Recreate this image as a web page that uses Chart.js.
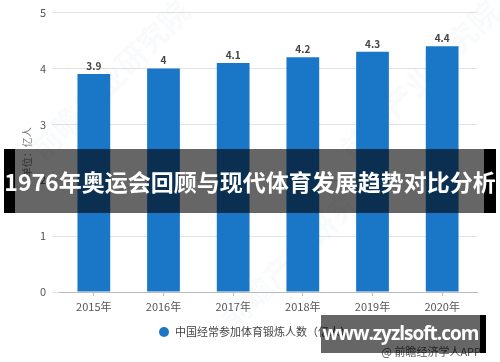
<!DOCTYPE html>
<html>
<head>
<meta charset="utf-8">
<script src="https://cdn.jsdelivr.net/npm/chart.js@4"></script>
<style>
  body { margin: 0; background: #fff; }
  #wrap { position: relative; width: 500px; height: 362px; overflow: hidden; }
  #banner {
    position: absolute; left: 4px; top: 149px; width: 469px; height: 64px;
    border-left: 11px solid #000; border-right: 12px solid #000;
    background: rgba(0,0,0,0.6);
  }
  #bannerText {
    position: absolute; left: 0; top: 149px; width: 500px; height: 64px;
    color: #fff; font: bold 23px "Noto Sans CJK SC", sans-serif;
    line-height: 64px; text-align: center; white-space: nowrap;
  }
  #site {
    position: absolute; left: 321px; top: 315px; width: 159px; height: 38px;
    border-right: 6px solid #000; background: rgba(0,0,0,0.6);
    color: #fff; font: bold 19px "Open Sans", sans-serif; line-height: 36px;
    letter-spacing: -1px; text-align: center; white-space: nowrap;
  }
</style>
</head>
<body>
<div id="wrap">
  <canvas id="myChart" width="500" height="362"></canvas>
  <div id="banner"></div>
  <div id="bannerText">1976年奥运会回顾与现代体育发展趋势对比分析</div>
  <div id="site">www.zyzlsoft.com</div>
</div>
<script>
//Data
var years = ['2015年', '2016年', '2017年', '2018年', '2019年', '2020年']
var people = [3.9, 4, 4.1, 4.2, 4.3, 4.4]
var seriesName = '中国经常参加体育锻炼人数（亿人）'
var yTitle = '单位：亿人'
var sourceText = '@ 前瞻经济学人APP'

var cjk = '"Noto Sans CJK SC", sans-serif'

//Labels over the bars, legend, source, watermark
const extras = {
    id: 'extras',
    beforeDatasetsDraw(chart) {
        const ctx = chart.ctx
        ctx.save()
        ctx.fillStyle = 'rgba(180, 190, 200, 0.08)'
        ctx.font = 'bold 30px ' + cjk
        ctx.textAlign = 'center'
        ctx.textBaseline = 'middle'
        ;[[110, 80], [420, 80], [300, 250]].forEach(p => {
            ctx.save()
            ctx.translate(p[0], p[1])
            ctx.rotate(-Math.PI / 4)
            ctx.fillText('前瞻产业研究院', 0, 0)
            ctx.restore()
        })
        ctx.restore()
    },
    afterDatasetsDraw(chart) {
        const ctx = chart.ctx
        const meta = chart.getDatasetMeta(0)
        ctx.save()
        ctx.fillStyle = '#444'
        ctx.font = 'bold 10px ' + cjk
        ctx.textAlign = 'center'
        ctx.textBaseline = 'bottom'
        meta.data.forEach((bar, i) => {
            ctx.fillText(people[i], bar.x, bar.y - 3)
        })
        //legend
        ctx.fillStyle = '#1a77c8'
        ctx.beginPath()
        ctx.arc(164, 332, 5, 0, Math.PI * 2)
        ctx.fill()
        ctx.fillStyle = '#444'
        ctx.font = '11px ' + cjk
        ctx.textAlign = 'left'
        ctx.textBaseline = 'middle'
        ctx.fillText(seriesName, 175, 332)
        //source
        ctx.fillStyle = '#555'
        ctx.font = '11px ' + cjk
        ctx.textAlign = 'right'
        ctx.fillText(sourceText, 481, 352)
        ctx.restore()
    }
}

const ctx = document.getElementById('myChart').getContext('2d')
const myChart = new Chart(ctx, {
    type: 'bar',
    data: {
        labels: years,
        datasets: [{
            label: seriesName,
            data: people,
            backgroundColor: '#1a77c8',
            categoryPercentage: 1,
            barPercentage: 0.47
        }]
    },
    options: {
        responsive: false,
        animation: false,
        layout: { padding: { top: 12, right: 23, bottom: 50, left: 0 } },
        plugins: {
            legend: { display: false },
            tooltip: { enabled: false }
        },
        scales: {
            x: {
                afterFit(s) { s.height = 20 },
                grid: { offset: false, drawOnChartArea: false, drawTicks: true, tickLength: 4, color: '#bbb' },
                border: { color: '#bbb' },
                ticks: { color: '#555', font: { size: 11, family: cjk }, padding: 4 }
            },
            y: {
                min: 0,
                max: 5,
                afterFit(s) { s.width = 59 },
                grid: { color: '#e3e3e3', tickLength: 7 },
                border: { display: false },
                ticks: { stepSize: 1, color: '#555', font: { size: 11, family: cjk }, padding: 6 },
                title: { display: true, text: yTitle, color: '#777', font: { size: 10, family: cjk }, padding: { top: 21, bottom: 0 } }
            }
        }
    },
    plugins: [extras]
})
</script>
</body>
</html>
